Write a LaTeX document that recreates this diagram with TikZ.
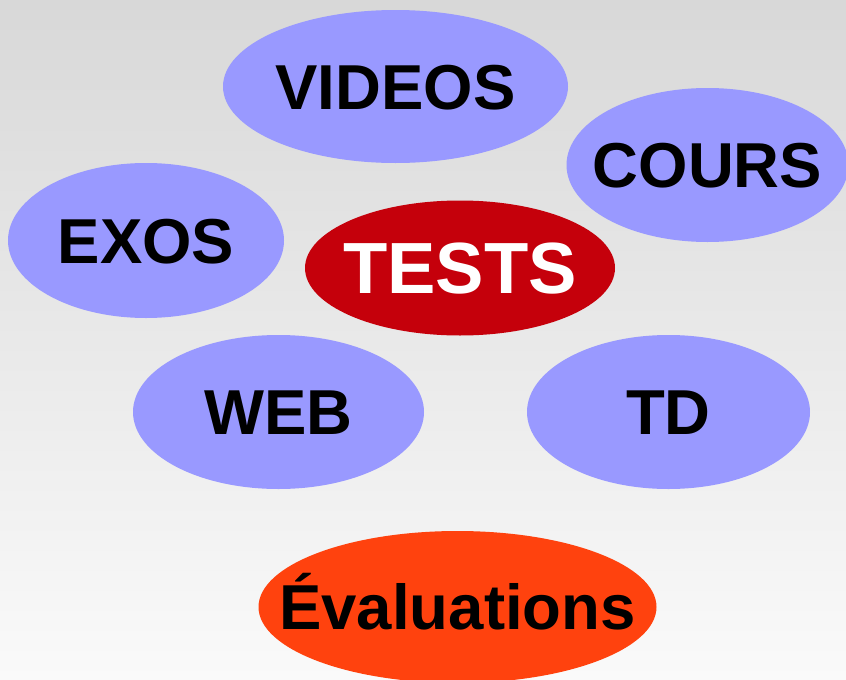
\documentclass[tikz,border=0pt]{standalone}
\usepackage{fontspec}
\setmainfont{Liberation Sans}
\usetikzlibrary{shapes.geometric}
\definecolor{bluebub}{HTML}{9999FF}
\definecolor{redbub}{HTML}{C5000B}
\definecolor{orangebub}{HTML}{FF420E}
\definecolor{bgtop}{HTML}{D8D8D8}
\definecolor{bgbot}{HTML}{FAFAFA}
\tikzset{
  bubble/.style={ellipse, inner sep=0pt, outer sep=0pt, draw=none},
  blue bubble/.style={bubble, fill=bluebub},
  word/.style={inner sep=0pt, text height=45pt, text depth=0pt,
    font=\fontsize{63.5}{70}\selectfont\bfseries},
  big word/.style={word, text height=51.5pt, font=\fontsize{72.5}{80}\selectfont\bfseries},
}
\begin{document}
\begin{tikzpicture}[x=1pt,y=-1pt]
  \useasboundingbox (0,0) rectangle (846,680);
  \clip (0,0) rectangle (846,680);
  \shade[top color=bgtop, bottom color=bgbot] (0,0) rectangle (846,680);

  % bubbles
  \node[blue bubble, minimum width=345pt, minimum height=153pt] (videos) at (395.5,86.5) {};
  \node[blue bubble, minimum width=282pt, minimum height=154pt] (cours) at (707.5,165) {};
  \node[blue bubble, minimum width=276pt, minimum height=155pt] (exos) at (146,240.5) {};
  \node[bubble, fill=redbub, minimum width=310pt, minimum height=135pt] (tests) at (460,268) {};
  \node[blue bubble, minimum width=291pt, minimum height=154pt] (web) at (278.5,412) {};
  \node[blue bubble, minimum width=283pt, minimum height=154pt] (td) at (668.5,412) {};
  \node[bubble, fill=orangebub, minimum width=398pt, minimum height=152pt] (eval) at (457.5,607) {};

  % labels
  \node[word] (videos-t) at (videos.center) {VIDEOS};
  \node[word] (cours-t) at (cours.center) {COURS};
  \node[word] (exos-t) at (exos.center) {EXOS};
  \node[big word, text=white] (tests-t) at (tests.center) {TESTS};
  \node[word] (web-t) at (web.center) {WEB};
  \node[word] (td-t) at (td.center) {TD};
  \node[word] (eval-t) at (eval.center) {Évaluations};
\end{tikzpicture}
\end{document}
